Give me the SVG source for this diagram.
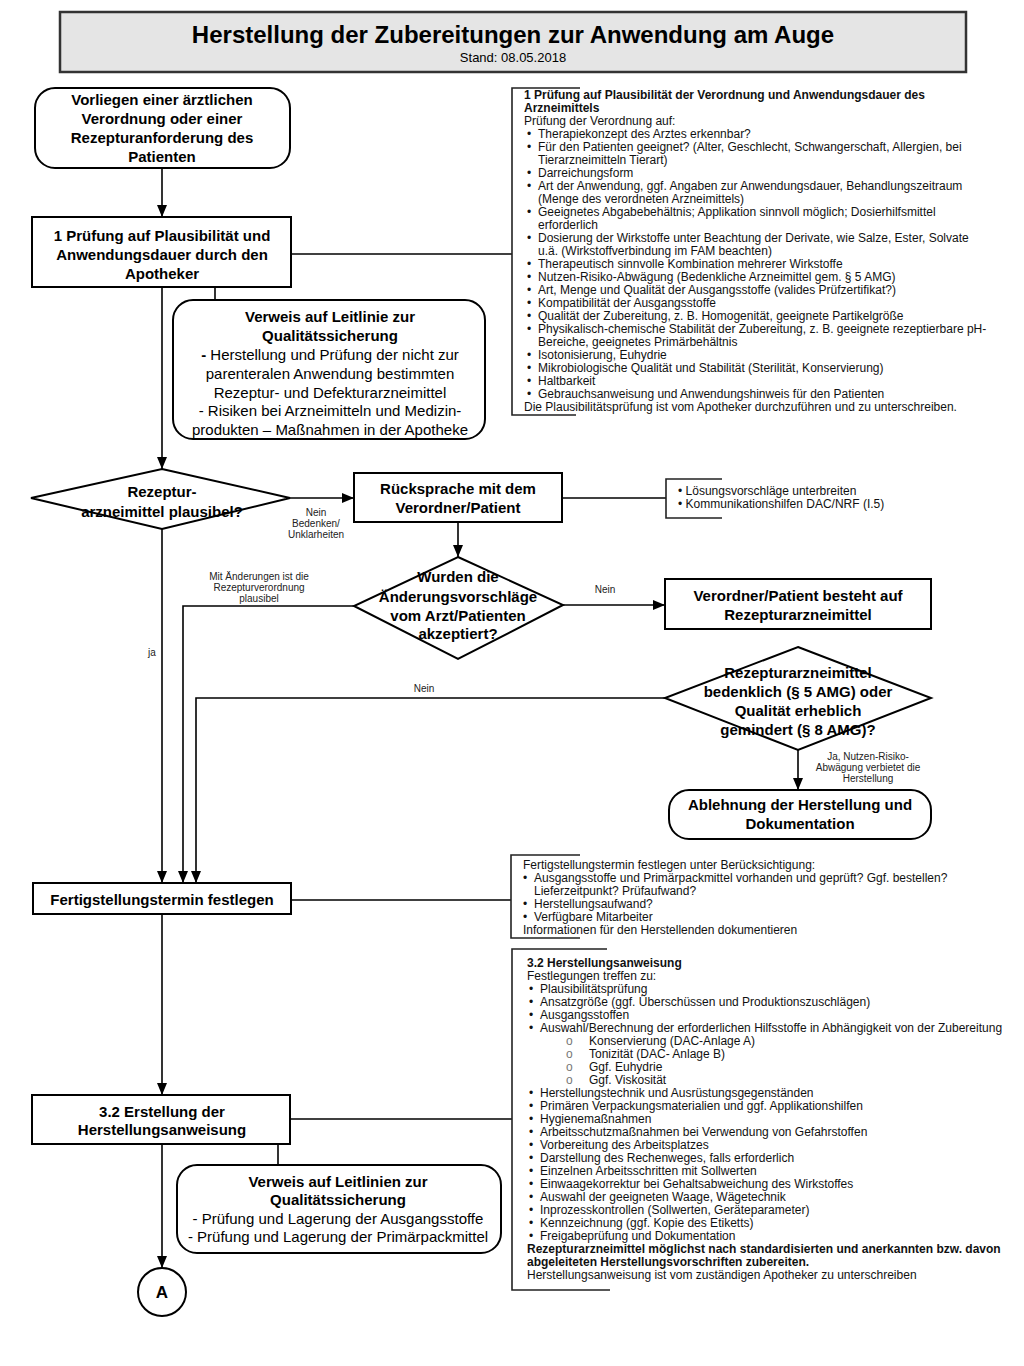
<svg xmlns="http://www.w3.org/2000/svg" width="1024" height="1366" viewBox="0 0 1024 1366">
<style>
.box{fill:#fff;stroke:#000;stroke-width:2}
.ln{fill:none;stroke:#000;stroke-width:1.6}
.br{fill:none;stroke:#222;stroke-width:1.6}
.t{font-family:"Liberation Sans",Arial,sans-serif;font-size:15px;fill:#000}
.b{font-weight:bold}
.c{text-anchor:middle}
.s{font-family:"Liberation Sans",Arial,sans-serif;font-size:12px;fill:#111}
.l{font-family:"Liberation Sans",Arial,sans-serif;font-size:10px;fill:#222;text-anchor:middle}
</style>
<defs>
<marker id="ah" markerUnits="userSpaceOnUse" markerWidth="12" markerHeight="10" viewBox="0 0 12 10" refX="12" refY="5" orient="auto">
<path d="M0,0 L12,5 L0,10 Z" fill="#000"/>
</marker>
</defs>
<rect width="1024" height="1366" fill="#fff"/>

<g id="title">
<rect x="60" y="12" width="906" height="60" fill="#e5e5e5" stroke="#333" stroke-width="2.5"/>
<text class="t b c" x="513" y="43" style="font-size:24px">Herstellung der Zubereitungen zur Anwendung am Auge</text>
<text class="t c" x="513" y="62" style="font-size:13px">Stand: 08.05.2018</text>
</g>

<g id="connectors">
<path class="ln" d="M162,168 V217" marker-end="url(#ah)"/>
<path class="ln" d="M162,287 V469" marker-end="url(#ah)"/>
<path class="ln" d="M215,287 V300"/>
<path class="ln" d="M291,254 H512"/>
<path class="ln" d="M290,498 H354" marker-end="url(#ah)"/>
<path class="ln" d="M562,498 H666"/>
<path class="ln" d="M458,522 V557" marker-end="url(#ah)"/>
<path class="ln" d="M563,605 H665" marker-end="url(#ah)"/>
<path class="ln" d="M354,606 H183 V883" marker-end="url(#ah)"/>
<path class="ln" d="M665,698 H196 V883" marker-end="url(#ah)"/>
<path class="ln" d="M798,750 V790" marker-end="url(#ah)"/>
<path class="ln" d="M162,529 V883" marker-end="url(#ah)"/>
<path class="ln" d="M291,900 H511"/>
<path class="ln" d="M162,914 V1095" marker-end="url(#ah)"/>
<path class="ln" d="M290,1119 H512"/>
<path class="ln" d="M278,1144 V1165"/>
<path class="ln" d="M162,1144 V1268" marker-end="url(#ah)"/>
<text class="l" x="316" y="516">Nein</text>
<text class="l" x="316" y="527">Bedenken/</text>
<text class="l" x="316" y="538">Unklarheiten</text>
<text class="l" x="259" y="580">Mit Änderungen ist die</text>
<text class="l" x="259" y="591">Rezepturverordnung</text>
<text class="l" x="259" y="602">plausibel</text>
<text class="l" x="152" y="656">ja</text>
<text class="l" x="605" y="593">Nein</text>
<text class="l" x="424" y="692">Nein</text>
<text class="l" x="868" y="760">Ja, Nutzen-Risiko-</text>
<text class="l" x="868" y="771">Abwägung verbietet die</text>
<text class="l" x="868" y="782">Herstellung</text>
</g>

<g id="start">
<rect class="box" x="35" y="88" width="255" height="80" rx="20"/>
<text class="t b c" x="162" y="105">Vorliegen einer ärztlichen</text>
<text class="t b c" x="162" y="124">Verordnung oder einer</text>
<text class="t b c" x="162" y="143">Rezepturanforderung des</text>
<text class="t b c" x="162" y="162">Patienten</text>
</g>

<g id="pruefung">
<rect class="box" x="32" y="217" width="259" height="70"/>
<text class="t b c" x="162" y="241">1 Prüfung auf Plausibilität und</text>
<text class="t b c" x="162" y="260">Anwendungsdauer durch den</text>
<text class="t b c" x="162" y="279">Apotheker</text>
</g>

<g id="note-pruefung">
<path class="br" d="M580,88 H512 V415 H576"/>
<text class="s b" x="524" y="99">1 Prüfung auf Plausibilität der Verordnung und Anwendungsdauer des</text>
<text class="s b" x="524" y="112">Arzneimittels</text>
<text class="s" x="524" y="125">Prüfung der Verordnung auf:</text>
<text class="s" x="527" y="138">•</text><text class="s" x="538" y="138">Therapiekonzept des Arztes erkennbar?</text>
<text class="s" x="527" y="151">•</text><text class="s" x="538" y="151">Für den Patienten geeignet? (Alter, Geschlecht, Schwangerschaft, Allergien, bei</text>
<text class="s" x="538" y="164">Tierarzneimitteln Tierart)</text>
<text class="s" x="527" y="177">•</text><text class="s" x="538" y="177">Darreichungsform</text>
<text class="s" x="527" y="190">•</text><text class="s" x="538" y="190">Art der Anwendung, ggf. Angaben zur Anwendungsdauer, Behandlungszeitraum</text>
<text class="s" x="538" y="203">(Menge des verordneten Arzneimittels)</text>
<text class="s" x="527" y="216">•</text><text class="s" x="538" y="216">Geeignetes Abgabebehältnis; Applikation sinnvoll möglich; Dosierhilfsmittel</text>
<text class="s" x="538" y="229">erforderlich</text>
<text class="s" x="527" y="242">•</text><text class="s" x="538" y="242">Dosierung der Wirkstoffe unter Beachtung der Derivate, wie Salze, Ester, Solvate</text>
<text class="s" x="538" y="255">u.ä. (Wirkstoffverbindung im FAM beachten)</text>
<text class="s" x="527" y="268">•</text><text class="s" x="538" y="268">Therapeutisch sinnvolle Kombination mehrerer Wirkstoffe</text>
<text class="s" x="527" y="281">•</text><text class="s" x="538" y="281">Nutzen-Risiko-Abwägung (Bedenkliche Arzneimittel gem. § 5 AMG)</text>
<text class="s" x="527" y="294">•</text><text class="s" x="538" y="294">Art, Menge und Qualität der Ausgangsstoffe (valides Prüfzertifikat?)</text>
<text class="s" x="527" y="307">•</text><text class="s" x="538" y="307">Kompatibilität der Ausgangsstoffe</text>
<text class="s" x="527" y="320">•</text><text class="s" x="538" y="320">Qualität der Zubereitung, z. B. Homogenität, geeignete Partikelgröße</text>
<text class="s" x="527" y="333">•</text><text class="s" x="538" y="333">Physikalisch-chemische Stabilität der Zubereitung, z. B. geeignete rezeptierbare pH-</text>
<text class="s" x="538" y="346">Bereiche, geeignetes Primärbehältnis</text>
<text class="s" x="527" y="359">•</text><text class="s" x="538" y="359">Isotonisierung, Euhydrie</text>
<text class="s" x="527" y="372">•</text><text class="s" x="538" y="372">Mikrobiologische Qualität und  Stabilität (Sterilität, Konservierung)</text>
<text class="s" x="527" y="385">•</text><text class="s" x="538" y="385">Haltbarkeit</text>
<text class="s" x="527" y="398">•</text><text class="s" x="538" y="398">Gebrauchsanweisung und Anwendungshinweis für  den Patienten</text>
<text class="s" x="524" y="411">Die Plausibilitätsprüfung ist vom Apotheker durchzuführen und zu unterschreiben.</text>
</g>

<g id="verweis1">
<rect class="box" x="173" y="300" width="312" height="139" rx="20"/>
<text class="t b c" x="330" y="322">Verweis auf Leitlinie zur</text>
<text class="t b c" x="330" y="341">Qualitätssicherung</text>
<text class="t c" x="330" y="360"><tspan class="b">-</tspan> Herstellung und Prüfung der nicht zur</text>
<text class="t c" x="330" y="379">parenteralen Anwendung bestimmten</text>
<text class="t c" x="330" y="398">Rezeptur- und Defekturarzneimittel</text>
<text class="t c" x="330" y="416">- Risiken bei Arzneimitteln und Medizin-</text>
<text class="t c" x="330" y="435">produkten – Maßnahmen in der Apotheke</text>
</g>

<g id="plausibel">
<polygon class="box" points="162,469 290,498 162,529 31,498"/>
<text class="t b c" x="162" y="497">Rezeptur-</text>
<text class="t b c" x="162" y="517">arzneimittel plausibel?</text>
</g>

<g id="ruecksprache">
<rect class="box" x="354" y="473" width="208" height="49"/>
<text class="t b c" x="458" y="494">Rücksprache mit dem</text>
<text class="t b c" x="458" y="513">Verordner/Patient</text>
</g>

<g id="note-ruecksprache">
<path class="br" d="M722,479 H666 V518 H722"/>
<text class="s" x="678" y="495">• Lösungsvorschläge unterbreiten</text>
<text class="s" x="678" y="508">• Kommunikationshilfen DAC/NRF (I.5)</text>
</g>

<g id="akzeptiert">
<polygon class="box" points="458,557 563,605 458,659 354,606"/>
<text class="t b c" x="458" y="582">Wurden die</text>
<text class="t b c" x="458" y="602">Änderungsvorschläge</text>
<text class="t b c" x="458" y="621">vom Arzt/Patienten</text>
<text class="t b c" x="458" y="639">akzeptiert?</text>
</g>

<g id="besteht">
<rect class="box" x="665" y="579" width="266" height="50"/>
<text class="t b c" x="798" y="601">Verordner/Patient besteht auf</text>
<text class="t b c" x="798" y="620">Rezepturarzneimittel</text>
</g>

<g id="bedenklich">
<polygon class="box" points="798,647 931,698 798,750 665,698"/>
<text class="t b c" x="798" y="678">Rezepturarzneimittel</text>
<text class="t b c" x="798" y="697">bedenklich (§ 5 AMG) oder</text>
<text class="t b c" x="798" y="716">Qualität erheblich</text>
<text class="t b c" x="798" y="735">gemindert (§ 8 AMG)?</text>
</g>

<g id="ablehnung">
<rect class="box" x="669" y="790" width="262" height="49" rx="20"/>
<text class="t b c" x="800" y="810">Ablehnung der Herstellung und</text>
<text class="t b c" x="800" y="829">Dokumentation</text>
</g>

<g id="fertigstellung">
<rect class="box" x="33" y="883" width="258" height="31"/>
<text class="t b c" x="162" y="905">Fertigstellungstermin festlegen</text>
</g>

<g id="note-fertigstellung">
<path class="br" d="M580,855 H511 V938 H580"/>
<text class="s" x="523" y="869">Fertigstellungstermin festlegen unter Berücksichtigung:</text>
<text class="s" x="523" y="882">•</text><text class="s" x="534" y="882">Ausgangsstoffe und Primärpackmittel vorhanden und geprüft? Ggf. bestellen?</text>
<text class="s" x="534" y="895">Lieferzeitpunkt? Prüfaufwand?</text>
<text class="s" x="523" y="908">•</text><text class="s" x="534" y="908">Herstellungsaufwand?</text>
<text class="s" x="523" y="921">•</text><text class="s" x="534" y="921">Verfügbare Mitarbeiter</text>
<text class="s" x="523" y="934">Informationen für den Herstellenden dokumentieren</text>
</g>

<g id="erstellung">
<rect class="box" x="32" y="1095" width="258" height="49"/>
<text class="t b c" x="162" y="1117">3.2 Erstellung der</text>
<text class="t b c" x="162" y="1135">Herstellungsanweisung</text>
</g>

<g id="note-herstellungsanweisung">
<path class="br" d="M607,949 H512 V1290 H610"/>
<text class="s b" x="527" y="967">3.2 Herstellungsanweisung</text>
<text class="s" x="527" y="980">Festlegungen treffen zu:</text>
<text class="s" x="529" y="993">•</text><text class="s" x="540" y="993">Plausibilitätsprüfung</text>
<text class="s" x="529" y="1006">•</text><text class="s" x="540" y="1006">Ansatzgröße (ggf. Überschüssen und Produktionszuschlägen)</text>
<text class="s" x="529" y="1019">•</text><text class="s" x="540" y="1019">Ausgangsstoffen</text>
<text class="s" x="529" y="1032">•</text><text class="s" x="540" y="1032">Auswahl/Berechnung der erforderlichen Hilfsstoffe in Abhängigkeit von der Zubereitung</text>
<text class="s" x="566" y="1045" style="fill:#777">o</text><text class="s" x="589" y="1045">Konservierung (DAC-Anlage A)</text>
<text class="s" x="566" y="1058" style="fill:#777">o</text><text class="s" x="589" y="1058">Tonizität (DAC- Anlage B)</text>
<text class="s" x="566" y="1071" style="fill:#777">o</text><text class="s" x="589" y="1071">Ggf. Euhydrie</text>
<text class="s" x="566" y="1084" style="fill:#777">o</text><text class="s" x="589" y="1084">Ggf. Viskosität</text>
<text class="s" x="529" y="1097">•</text><text class="s" x="540" y="1097">Herstellungstechnik und Ausrüstungsgegenständen</text>
<text class="s" x="529" y="1110">•</text><text class="s" x="540" y="1110">Primären Verpackungsmaterialien und ggf. Applikationshilfen</text>
<text class="s" x="529" y="1123">•</text><text class="s" x="540" y="1123">Hygienemaßnahmen</text>
<text class="s" x="529" y="1136">•</text><text class="s" x="540" y="1136">Arbeitsschutzmaßnahmen bei Verwendung von Gefahrstoffen</text>
<text class="s" x="529" y="1149">•</text><text class="s" x="540" y="1149">Vorbereitung des Arbeitsplatzes</text>
<text class="s" x="529" y="1162">•</text><text class="s" x="540" y="1162">Darstellung des Rechenweges, falls erforderlich</text>
<text class="s" x="529" y="1175">•</text><text class="s" x="540" y="1175">Einzelnen Arbeitsschritten mit Sollwerten</text>
<text class="s" x="529" y="1188">•</text><text class="s" x="540" y="1188">Einwaagekorrektur bei Gehaltsabweichung des Wirkstoffes</text>
<text class="s" x="529" y="1201">•</text><text class="s" x="540" y="1201">Auswahl der geeigneten Waage, Wägetechnik</text>
<text class="s" x="529" y="1214">•</text><text class="s" x="540" y="1214">Inprozesskontrollen (Sollwerten, Geräteparameter)</text>
<text class="s" x="529" y="1227">•</text><text class="s" x="540" y="1227">Kennzeichnung (ggf. Kopie des Etiketts)</text>
<text class="s" x="529" y="1240">•</text><text class="s" x="540" y="1240">Freigabeprüfung und Dokumentation</text>
<text class="s b" x="527" y="1253">Rezepturarzneimittel möglichst nach standardisierten und anerkannten bzw. davon</text>
<text class="s b" x="527" y="1266">abgeleiteten Herstellungsvorschriften zubereiten.</text>
<text class="s" x="527" y="1279">Herstellungsanweisung ist vom zuständigen Apotheker zu unterschreiben</text>
</g>

<g id="verweis2">
<rect class="box" x="177" y="1165" width="324" height="88" rx="20"/>
<text class="t b c" x="338" y="1187">Verweis auf Leitlinien zur</text>
<text class="t b c" x="338" y="1205">Qualitätssicherung</text>
<text class="t c" x="338" y="1224">- Prüfung und Lagerung der Ausgangsstoffe</text>
<text class="t c" x="338" y="1242">- Prüfung und Lagerung der Primärpackmittel</text>
</g>

<g id="connector-a">
<circle class="box" cx="162" cy="1292" r="24"/>
<text class="t b c" x="162" y="1298" style="font-size:17px">A</text>
</g>
</svg>
